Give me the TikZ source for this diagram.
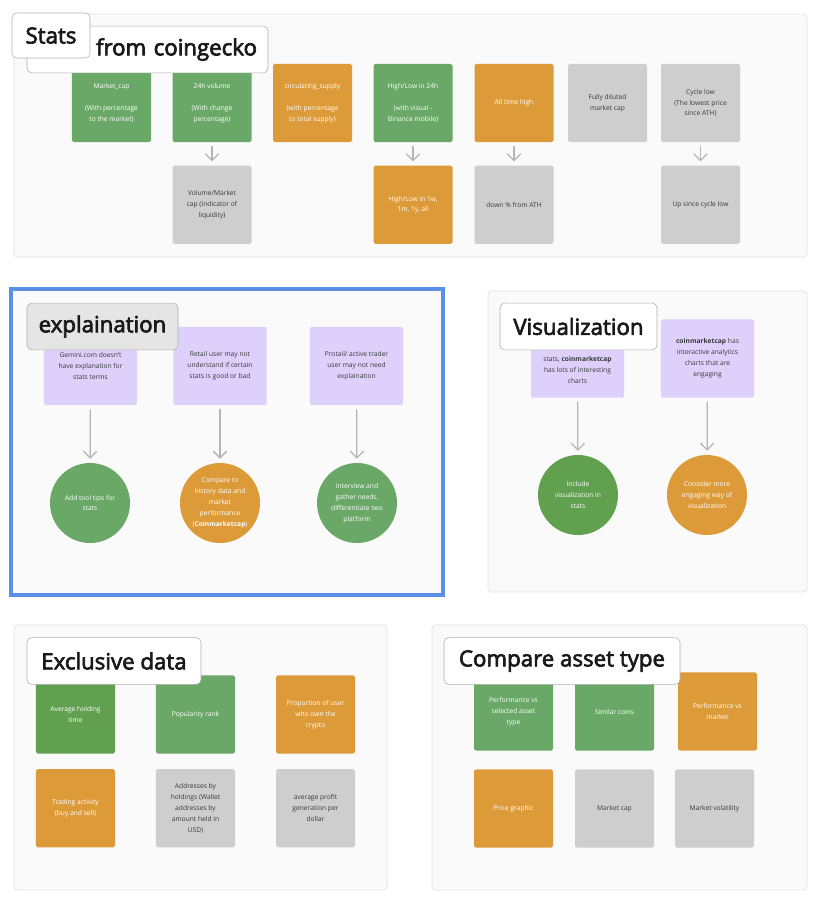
\documentclass[tikz,border=0pt]{standalone}
\usepackage{fontspec}
\setmainfont{Open Sans}
\newfontfamily\headfont[FakeBold=3]{Open Sans}
\usetikzlibrary{arrows.meta, positioning}

\definecolor{notegreen}{HTML}{6AA867}
\definecolor{notedeepgreen}{HTML}{61A04F}
\definecolor{noteorange}{HTML}{DD9A38}
\definecolor{notegrey}{HTML}{CDCECD}
\definecolor{notepurple}{HTML}{DDD0FA}
\definecolor{notetext}{HTML}{3A3A3A}
\definecolor{framefill}{HTML}{FAFAFA}
\definecolor{frameline}{HTML}{E2E2E2}
\definecolor{focusblue}{HTML}{5B8EE6}
\definecolor{flowgrey}{HTML}{B5B5B5}
\definecolor{headline}{HTML}{B0B0B0}

\begin{document}
\begin{tikzpicture}[
    x=0.03cm, y=-0.03cm,
    >={Straight Barb[length=0.2cm, width=0.4cm]},
    frame/.style={draw=frameline, fill=framefill, rounded corners=3pt, line width=0.6pt},
    note/.style={rounded corners=1.5pt, minimum width=2.37cm, minimum height=2.35cm,
                 inner sep=1pt, align=center, font=\fontsize{5.7}{9.3}\selectfont},
    widenote/.style={note, minimum width=2.8cm},
    greennote/.style={fill=notegreen, text=white},
    deepgreennote/.style={fill=notedeepgreen, text=white},
    orangenote/.style={fill=noteorange, text=white},
    greynote/.style={fill=notegrey, text=notetext},
    purplenote/.style={fill=notepurple, text=notetext},
    idea/.style={circle, minimum size=2.4cm, inner sep=0pt, align=center,
                 font=\fontsize{5.7}{9.3}\selectfont},
    flow/.style={->, draw=flowgrey, line width=1.1pt, shorten <=0.12cm, shorten >=0.12cm},
    heading/.style={draw=headline, fill=white, rounded corners=4pt, line width=0.5pt,
                    inner sep=0pt, minimum height=1.4cm, text=black!90,
                    font=\fontsize{19}{22}\selectfont\headfont}
  ]
  \useasboundingbox[fill=white] (0,0) rectangle (832,916);

  % section frames
  \draw[frame] (14,14) rectangle (807,257);
  \draw[fill=framefill, draw=focusblue, line width=2.6pt] (11,289) rectangle (443,595);
  \draw[frame] (488,291) rectangle (807,592);
  \draw[frame] (14,625) rectangle (387,890);
  \draw[frame] (432,625) rectangle (807,890);

  % stats from coingecko
  \node[note, greennote] (mcap) at (111.5,103)
    {Market\_cap\\[9.3pt](With percentage\\to the market)};
  \node[note, greennote] (vol) at (212,103)
    {24h volume\\[9.3pt](With change\\percentage)};
  \node[note, orangenote] (supply) at (312.5,103)
    {circulating\_supply\\[9.3pt](with percentage\\to total supply)};
  \node[note, greennote] (hilo) at (413,103)
    {High/Low in 24h\\[9.3pt](with visual -\\Binance mobile)};
  \node[note, orangenote] (ath) at (514,103) {All time high};
  \node[note, greynote] (fdv) at (607.5,103) {Fully diluted\\market cap};
  \node[note, greynote] (cyclow) at (700.5,103)
    {Cycle low\\(The lowest price\\since ATH)};

  \node[note, greynote, below=0.69cm of vol] (volmcap)
    {Volume/Market\\cap (Indicator of\\liquidity)};
  \node[note, orangenote, below=0.69cm of hilo] (hilolong)
    {High/Low in 1w,\\1m, 1y, all};
  \node[note, greynote, below=0.69cm of ath] (down) {down \% from ATH};
  \node[note, greynote, below=0.69cm of cyclow] (upcyc) {Up since cycle low};

  \draw[flow] (vol) -- (volmcap);
  \draw[flow] (hilo) -- (hilolong);
  \draw[flow] (ath) -- (down);
  \draw[flow] (cyclow) -- (upcyc);

  % explanation
  \node[widenote, purplenote] (gemini) at (90.5,366)
    {Gemini.com doesn't\\have explanation for\\stats terms};
  \node[widenote, purplenote] (retail) at (220,366)
    {Retail user may not\\understand if certain\\stats is good or bad};
  \node[widenote, purplenote] (trader) at (356.5,366)
    {Protail/ active trader\\user may not need\\explaination};
  \node[idea, fill=notegreen, text=white] (tooltip) at (90,503)
    {Add tool tips for\\stats};
  \node[idea, fill=noteorange, text=white] (history) at (220,503)
    {Compare to\\history data and\\market\\performance\\(\textbf{Coinmarketcap})};
  \node[idea, fill=notegreen, text=white] (interview) at (357,503)
    {Interview and\\gather needs,\\differentiate two\\platform};

  \draw[flow] (gemini) -- (tooltip);
  \draw[flow] (retail) -- (history);
  \draw[flow] (trader) -- (interview);

  % visualization
  \node[widenote, purplenote] (vizcharts) at (577.5,358.5) {};
  \node[align=center, text=notetext, inner sep=0pt,
        font=\fontsize{5.7}{9.3}\selectfont] (vizchartstext) at (577.5,370)
    {stats, \textbf{coinmarketcap}\\has lots of interesting\\charts};
  \node[widenote, purplenote] (vizcmc) at (707.5,358.5)
    {\textbf{coinmarketcap} has\\interactive analytics\\charts that are\\engaging};
  \node[idea, fill=notedeepgreen, text=white] (include) at (578,495)
    {Include\\visualization in\\stats};
  \node[idea, fill=noteorange, text=white] (engage) at (707,495)
    {Consider more\\engaging way of\\visualization};

  \draw[flow] (vizcharts) -- (include);
  \draw[flow] (vizcmc) -- (engage);

  % exclusive data
  \node[note, deepgreennote] (holding) at (75.5,714.5) {Average holding\\time};
  \node[note, greennote] (popular) at (195.5,714.5) {Popularity rank};
  \node[note, orangenote] (owners) at (315.5,714.5)
    {Proportion of user\\who own the\\crypto};
  \node[note, orangenote, below=0.45cm of holding] (trading)
    {Trading activity\\(buy and sell)};
  \node[note, greynote, below=0.45cm of popular] (addresses)
    {Addresses by\\holdings (Wallet\\addresses by\\amount held in\\USD)};
  \node[note, greynote, below=0.45cm of owners] (profit)
    {average profit\\generation per\\dollar};

  % compare asset type
  \node[note, greennote] (perfsel) at (513.5,711.5)
    {Performance vs\\selected asset\\type};
  \node[note, greennote] (similar) at (614.5,711.5) {Similar coins};
  \node[note, orangenote] (perfmkt) at (717.5,711.5) {Performance vs\\market};
  \node[note, orangenote] (price) at (513.5,808.5) {Price graphic};
  \node[note, greynote] (mktcap) at (614.5,808.5) {Market cap};
  \node[note, greynote] (volat) at (714.5,808.5) {Market volatility};

  % headings
  \node[heading, minimum width=7.23cm, text width=6.57cm, align=right]
    (coingecko) at (147.5,49.5) {from coingecko};
  \node[heading, minimum width=2.34cm, minimum height=1.35cm] (stats) at (51,35.5) {Stats};
  \node[heading, fill=black!10, minimum width=4.53cm] (explain) at (102.5,326.5) {explaination};
  \node[heading, minimum width=4.71cm] (viz) at (578.5,326.5) {Visualization};
  \node[heading, minimum width=5.22cm] (exclusive) at (114,661) {Exclusive data};
  \node[heading, minimum width=7.08cm] (compare) at (562,661) {Compare asset type};
\end{tikzpicture}
\end{document}
